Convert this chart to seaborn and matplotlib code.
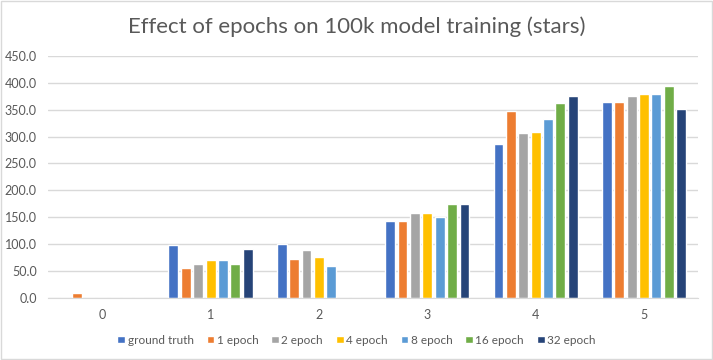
import pandas as pd
import matplotlib
matplotlib.use("Agg")
import matplotlib.pyplot as plt
import seaborn as sb
from matplotlib.patches import Rectangle

# values
categories = ["0", "1", "2", "3", "4", "5"]
series = ["ground truth", "1 epoch", "2 epoch", "4 epoch", "8 epoch", "16 epoch", "32 epoch"]
ground_truth = [0, 99, 100, 143, 286, 364]
epoch_1 = [10, 55, 72, 143, 348, 364]
epoch_2 = [0, 63, 89, 158, 307, 376]
epoch_4 = [0, 70, 76, 158, 309, 379]
epoch_8 = [0, 70, 60, 151, 333, 379]
epoch_16 = [0, 63, 0, 175, 363, 394]
epoch_32 = [0, 92, 0, 175, 376, 351]

colors = ["#4472C4", "#ED7D31", "#A5A5A5", "#FFC000", "#5B9BD5", "#70AD47", "#264478"]
text_col = "#595959"
grid_col = "#D9D9D9"

values = [ground_truth, epoch_1, epoch_2, epoch_4, epoch_8, epoch_16, epoch_32]
rows = []
for name, vals in zip(series, values):
    for cat, v in zip(categories, vals):
        rows.append({"stars": cat, "series": name, "count": v})
df = pd.DataFrame(rows)

sb.set_style("white")
plt.rcParams["font.family"] = ["Lato", "DejaVu Sans"]

fig = plt.figure(figsize=(7.13, 3.6), dpi=100)
ax = fig.add_axes([0.0673, 0.172, 0.912, 0.673])

sb.barplot(data=df, x="stars", y="count", hue="series", hue_order=series,
           order=categories, palette=colors, width=0.8, saturation=1,
           errorbar=None, ax=ax, legend=True)

# small gap between the bars of one group
for p in ax.patches:
    w = p.get_width()
    p.set_x(p.get_x() + w * 0.1)
    p.set_width(w * 0.8)

ax.set_ylim(0, 450)
ax.set_xlim(-0.5, 5.5)
ax.set_yticks(range(0, 451, 50))
ax.set_yticklabels([f"{v:.1f}" for v in range(0, 451, 50)])
ax.grid(axis="y", color=grid_col, linewidth=1)
ax.set_axisbelow(True)
for s in ["top", "right", "left"]:
    ax.spines[s].set_visible(False)
ax.spines["bottom"].set_color(grid_col)
ax.tick_params(axis="both", length=0, colors=text_col, labelsize=9, pad=8)
ax.set_xlabel("")
ax.set_ylabel("")

fig.suptitle("Effect of epochs on 100k model training (stars)", color=text_col,
             fontsize=16, y=0.955)

handles, labels = ax.get_legend_handles_labels()
ax.legend_.remove()
fig.legend(handles, labels, loc="center", bbox_to_anchor=(0.5, 0.055), ncol=7,
           frameon=False, fontsize=8.5, handlelength=0.65, handleheight=0.65,
           handletextpad=0.2, columnspacing=1.1, labelcolor=text_col)

fig.patches.append(Rectangle((0.001, 0.002), 0.997, 0.995, transform=fig.transFigure,
                             fill=False, edgecolor=grid_col, linewidth=1))

fig.savefig("out.png", dpi=100)
